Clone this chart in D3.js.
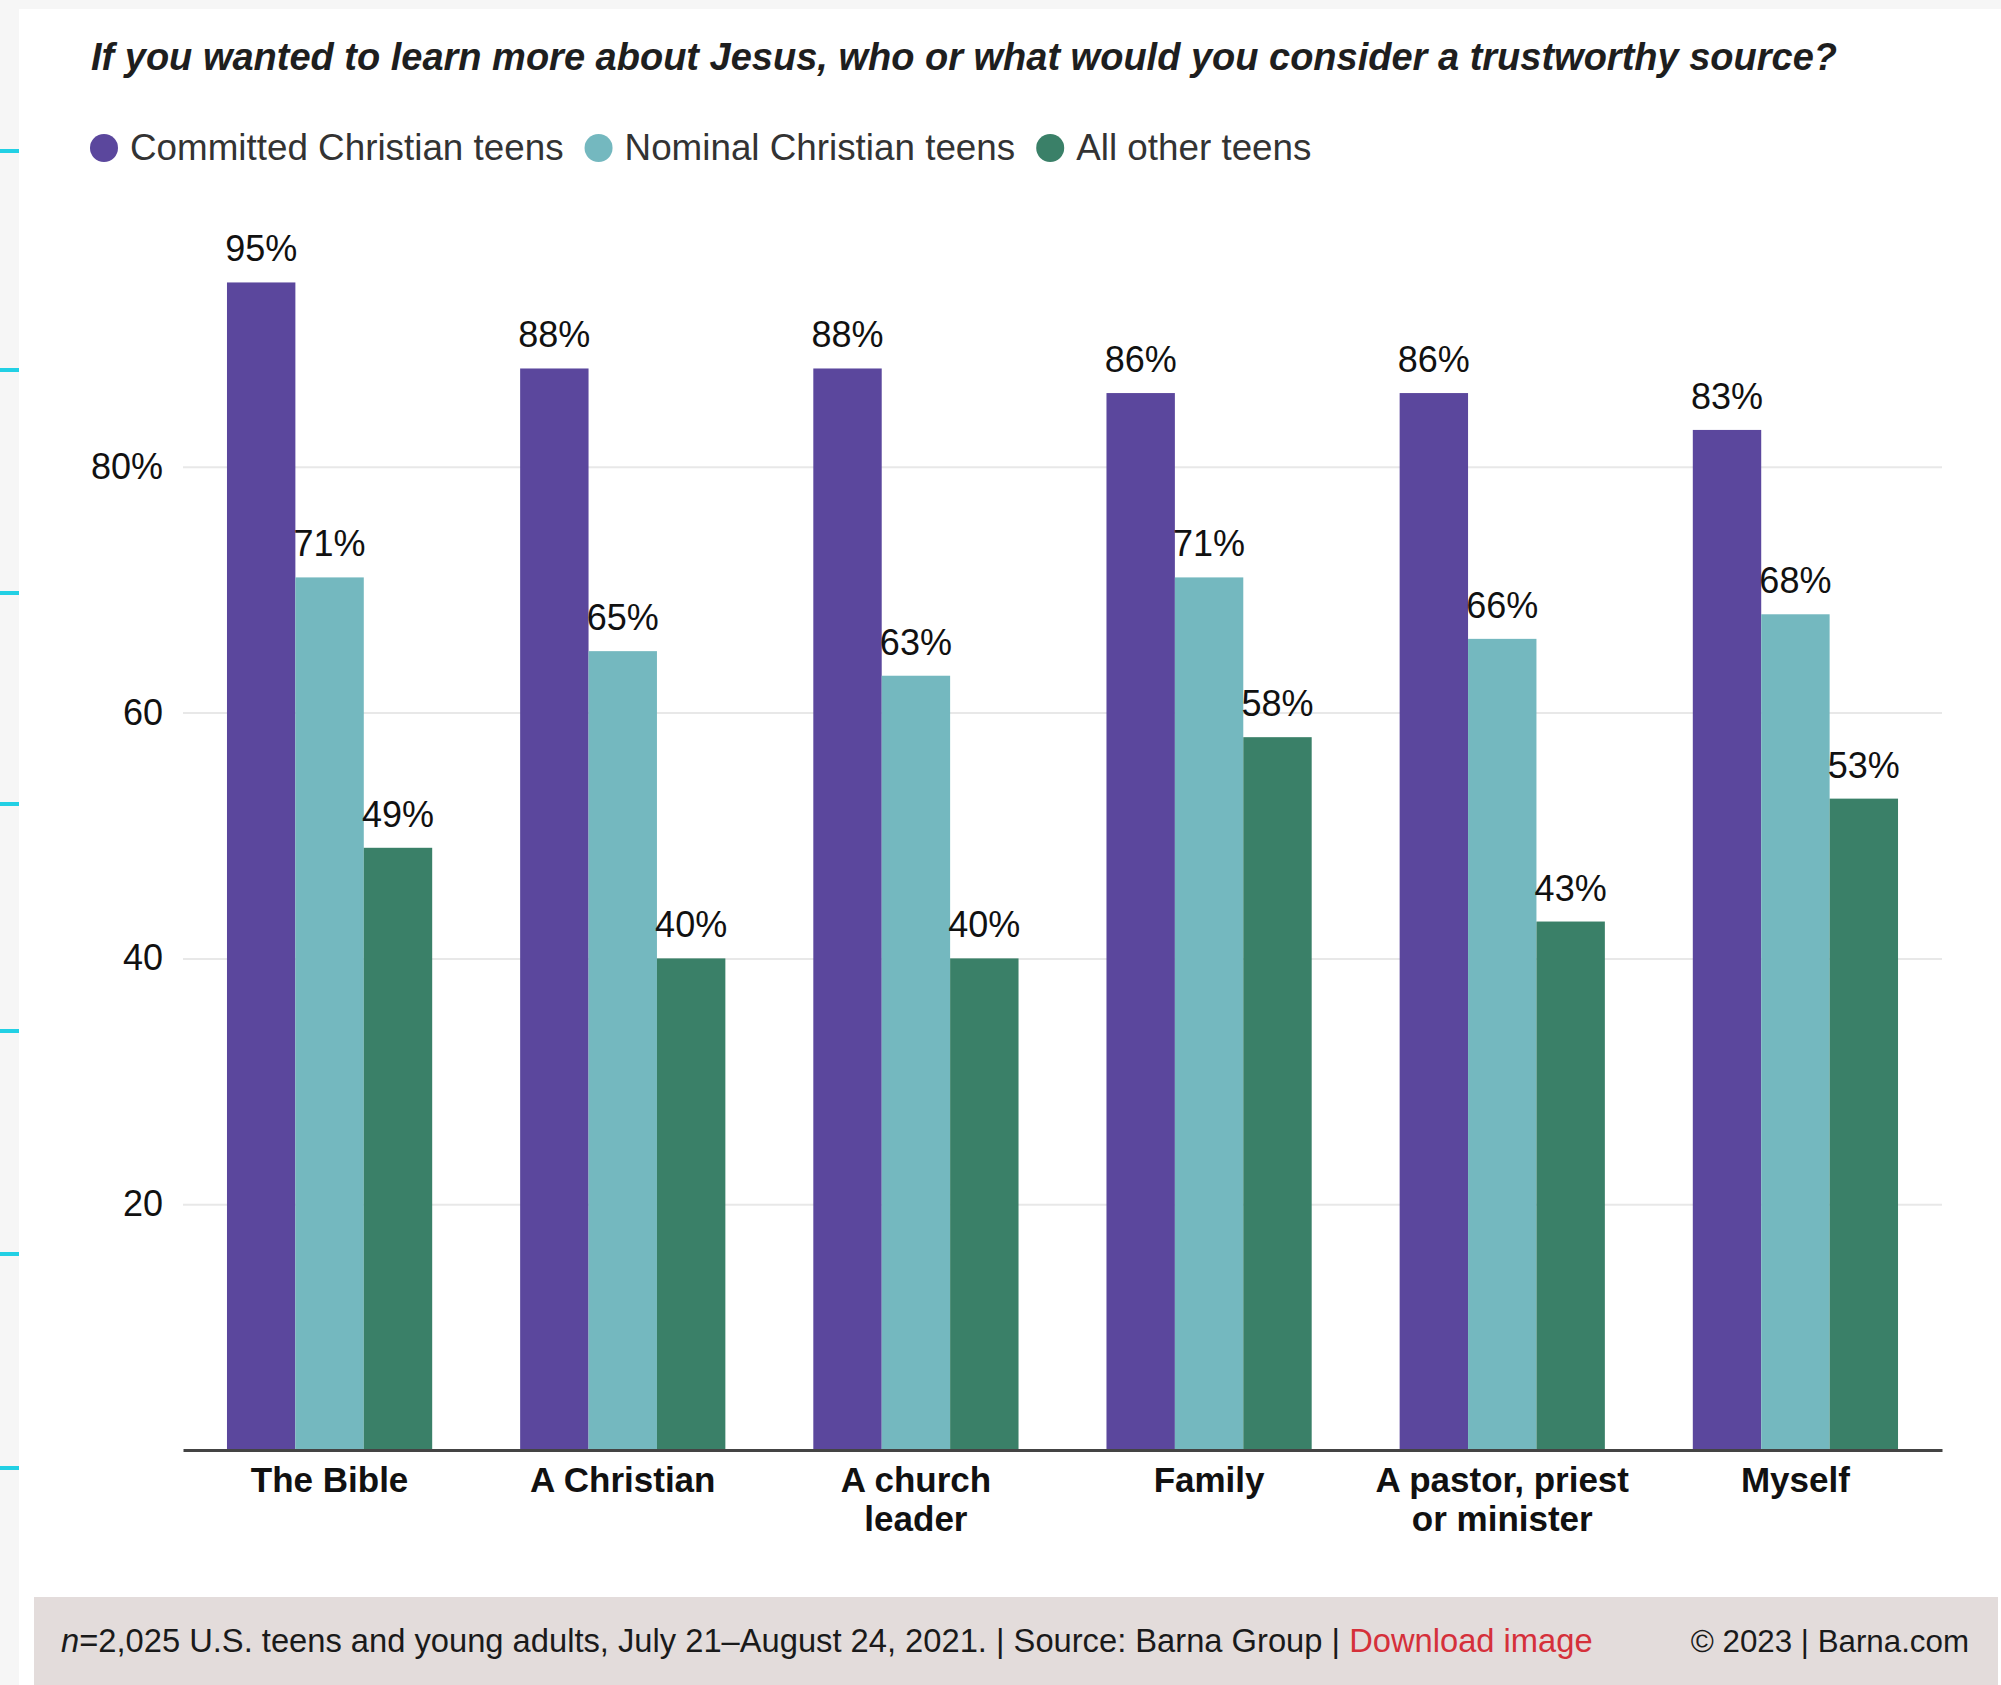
<!DOCTYPE html>
<html>
<head>
<meta charset="utf-8">
<script src="https://cdn.jsdelivr.net/npm/d3@7"></script>
<style>
  body { margin: 0; background: #f6f6f6; }
  text { font-family: "Liberation Sans", Arial, Helvetica, sans-serif; }
</style>
</head>
<body>
<svg id="chart" width="2001" height="1685"></svg>
<script>
// chart values
const categories = ["The Bible", "A Christian", "A church leader", "Family", "A pastor, priest or minister", "Myself"];
const categoryLines = [["The Bible"], ["A Christian"], ["A church", "leader"], ["Family"], ["A pastor, priest", "or minister"], ["Myself"]];
const seriesNames = ["Committed Christian teens", "Nominal Christian teens", "All other teens"];
const committed = [95, 88, 88, 86, 86, 83];
const nominal = [71, 65, 63, 71, 66, 68];
const allOther = [49, 40, 40, 58, 43, 53];
const yTicks = [20, 40, 60, 80];
const colors = ["#5b479d", "#74b8bf", "#3a8068"];

const title = "If you wanted to learn more about Jesus, who or what would you consider a trustworthy source?";
const footerLeft = "=2,025 U.S. teens and young adults, July 21\u2013August 24, 2021. | Source: Barna Group | ";
const footerLink = "Download image";
const footerRight = "\u00a9 2023 | Barna.com";

const svg = d3.select("#chart");
const W = 2001, H = 1685;
const margin = {left: 183, right: 59, top: 221, bottom: 235};

// page + card background
svg.append("rect").attr("width", W).attr("height", H).attr("fill", "#f6f6f6");
svg.append("rect").attr("x", 19).attr("y", 9).attr("width", W - 19).attr("height", H - 9).attr("fill", "#fff");

// cyan marks on the left edge
const edgeMarks = [151, 370, 593, 804, 1031, 1254, 1468];
svg.selectAll(".edge").data(edgeMarks).enter().append("rect")
  .attr("x", 0).attr("y", d => d - 2).attr("width", 19).attr("height", 4)
  .attr("fill", "#22d0e4");

// title
svg.append("text")
  .attr("x", 91).attr("y", 70)
  .attr("font-size", 39).attr("font-weight", 700).attr("font-style", "italic")
  .attr("fill", "#1e1e1e")
  .attr("textLength", 1746).attr("lengthAdjust", "spacingAndGlyphs")
  .text(title);

// legend
const legend = svg.append("g").attr("transform", "translate(0,148)");
let lx = 104;
seriesNames.forEach((name, i) => {
  legend.append("circle").attr("cx", lx).attr("cy", 0).attr("r", 14).attr("fill", colors[i]);
  const t = legend.append("text")
    .attr("x", lx + 26).attr("y", 12)
    .attr("font-size", 36.8).attr("fill", "#333")
    .text(name);
  lx = lx + 26 + t.node().getComputedTextLength() + 35;
});

// scales
const x0 = d3.scaleBand()
  .domain(categories)
  .range([margin.left, W - margin.right])
  .paddingInner(0.3)
  .paddingOuter(0.15);
const x1 = d3.scaleBand()
  .domain(seriesNames)
  .range([0, x0.bandwidth()]);
const y = d3.scaleLinear()
  .domain([0, 100])
  .range([H - margin.bottom, margin.top]);

// gridlines + y labels
const yAxis = d3.axisLeft(y)
  .tickValues(yTicks)
  .tickSize(-(W - margin.right - margin.left))
  .tickPadding(20)
  .tickFormat(d => d === 80 ? d + "%" : d);
const gy = svg.append("g")
  .attr("transform", "translate(" + margin.left + ",0)")
  .call(yAxis);
gy.select(".domain").remove();
gy.selectAll(".tick line").attr("stroke", "#e8e8e8").attr("stroke-width", 2);
gy.selectAll(".tick text")
  .attr("font-size", 36).attr("fill", "#111")
  .attr("font-family", "'Liberation Sans', Arial, sans-serif")
  .attr("x", -20);

// bars
const rows = categories.map((c, i) => ({
  cat: c,
  values: [committed[i], nominal[i], allOther[i]]
}));

const groups = svg.selectAll(".grp").data(rows).enter().append("g")
  .attr("transform", d => "translate(" + x0(d.cat) + ",0)");

groups.selectAll("rect")
  .data(d => d.values.map((v, j) => ({s: seriesNames[j], v: v, j: j})))
  .enter().append("rect")
  .attr("x", d => x1(d.s))
  .attr("y", d => y(d.v))
  .attr("width", x1.bandwidth())
  .attr("height", d => y(0) - y(d.v))
  .attr("fill", d => colors[d.j]);

groups.selectAll(".lbl")
  .data(d => d.values.map((v, j) => ({s: seriesNames[j], v: v})))
  .enter().append("text")
  .attr("x", d => x1(d.s) + x1.bandwidth() / 2)
  .attr("y", d => y(d.v) - 21)
  .attr("text-anchor", "middle")
  .attr("font-size", 36).attr("fill", "#111")
  .text(d => d.v + "%");

// x axis
const xAxis = d3.axisBottom(x0).tickSize(0).tickFormat("");
const gx = svg.append("g")
  .attr("transform", "translate(0," + y(0) + ")")
  .call(xAxis);
gx.select(".domain").attr("stroke", "#444").attr("stroke-width", 3);

gx.selectAll(".tick").each(function(d) {
  const lines = categoryLines[categories.indexOf(d)];
  const t = d3.select(this).append("text")
    .attr("text-anchor", "middle")
    .attr("font-size", 35).attr("font-weight", 700).attr("fill", "#111")
    .attr("font-family", "'Liberation Sans', Arial, sans-serif");
  lines.forEach((ln, k) => {
    t.append("tspan").attr("x", 0).attr("y", 42 + k * 39).text(ln);
  });
});

// footer
svg.append("rect").attr("x", 34).attr("y", 1597).attr("width", W - 34 - 3).attr("height", H - 1597)
  .attr("fill", "#e3dcdb");
const ft = svg.append("text")
  .attr("x", 61).attr("y", 1652)
  .attr("font-size", 32.7).attr("fill", "#1a1a1a");
ft.append("tspan").attr("font-style", "italic").text("n");
ft.append("tspan").text(footerLeft);
ft.append("tspan").attr("fill", "#d5303a").text(footerLink);
svg.append("text")
  .attr("x", 1969).attr("y", 1652)
  .attr("text-anchor", "end")
  .attr("font-size", 31.3).attr("fill", "#1a1a1a")
  .text(footerRight);
</script>
</body>
</html>
